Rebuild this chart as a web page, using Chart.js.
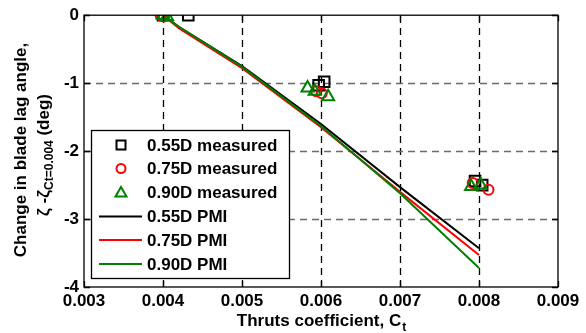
<!DOCTYPE html>
<html><head><meta charset="utf-8">
<script src="https://cdn.jsdelivr.net/npm/chart.js@4/dist/chart.umd.min.js"></script>
<style>html,body{margin:0;padding:0;background:#fff}#wrap{width:586px;height:333px;position:relative}</style>
</head><body><div id="wrap"><canvas id="c" width="586" height="333"></canvas></div>
<script>
// ---- data ----
const xTickValues = [0.003, 0.004, 0.005, 0.006, 0.007, 0.008, 0.009];
const yTickValues = [0, -1, -2, -3, -4];
const seriesLabels = ["0.55D measured","0.75D measured","0.90D measured","0.55D PMI","0.75D PMI","0.90D PMI"];
const meas55X = [0.0040, 0.00432, 0.00597, 0.00604, 0.00795, 0.00804];
const meas55Y = [0, 0, -1.03, -0.98, -2.44, -2.50];
const meas75X = [0.00397, 0.00401, 0.00594, 0.00601, 0.00792, 0.00812];
const meas75Y = [0, -0.02, -1.12, -1.15, -2.47, -2.57];
const meas90X = [0.0040, 0.00405, 0.00583, 0.00592, 0.00609, 0.00790, 0.00802];
const meas90Y = [0, -0.02, -1.07, -1.12, -1.20, -2.52, -2.50];
const pmiX   = [0.0040, 0.0042, 0.0050, 0.0060, 0.0070, 0.0080];
const pmi55Y = [0, -0.17, -0.75, -1.60, -2.53, -3.43];
const pmi75Y = [0, -0.19, -0.78, -1.65, -2.60, -3.53];
const pmi90Y = [0, -0.17, -0.76, -1.63, -2.62, -3.72];

const zip = (xs, ys) => xs.map((x, i) => ({x, y: ys[i]}));
const FONT = "'Liberation Sans', Arial, sans-serif";

const datasets = [
  {label: seriesLabels[0], data: zip(meas55X, meas55Y), showLine:false, pointStyle:'rect', pointRadius:7.5, borderColor:'#000', backgroundColor:'rgba(0,0,0,0)', borderWidth:2, order:3},
  {label: seriesLabels[1], data: zip(meas75X, meas75Y), showLine:false, pointStyle:'circle', pointRadius:5, borderColor:'#ff0000', backgroundColor:'rgba(0,0,0,0)', borderWidth:2, order:2},
  {label: seriesLabels[2], data: zip(meas90X, meas90Y), showLine:false, pointStyle:'triangle', pointRadius:7, borderColor:'#008000', backgroundColor:'rgba(0,0,0,0)', borderWidth:2, order:1},
  {label: seriesLabels[3], data: zip(pmiX, pmi55Y), showLine:true, pointRadius:0, borderColor:'#000', borderWidth:2, order:6},
  {label: seriesLabels[4], data: zip(pmiX, pmi75Y), showLine:true, pointRadius:0, borderColor:'#ff0000', borderWidth:2, order:5},
  {label: seriesLabels[5], data: zip(pmiX, pmi90Y), showLine:true, pointRadius:0, borderColor:'#008000', borderWidth:2, order:4},
];

const framePlugin = {
  id: 'frame',
  beforeDatasetsDraw(chart) {
    const {ctx, chartArea: a, scales: {x, y}} = chart;
    ctx.save();
    ctx.lineWidth = 1.3;
    ctx.setLineDash([7, 5]);
    ctx.strokeStyle = '#000';
    ctx.beginPath();
    xTickValues.slice(1, -1).forEach(v => { const px = Math.round(x.getPixelForValue(v)) + 0.5;
      ctx.moveTo(px, a.bottom); ctx.lineTo(px, a.top); });
    ctx.stroke();
    ctx.strokeStyle = '#6a6a6a';
    ctx.beginPath();
    yTickValues.slice(1, -1).forEach(v => { const py = Math.round(y.getPixelForValue(v)) + 0.5;
      ctx.moveTo(a.left, py); ctx.lineTo(a.right, py); });
    ctx.stroke();
    ctx.restore();
  },
  afterDatasetsDraw(chart) {
    const {ctx, chartArea: a, scales: {x, y}} = chart;
    ctx.save();
    ctx.strokeStyle = '#000'; ctx.lineWidth = 1.3; ctx.setLineDash([]);
    ctx.strokeRect(a.left, a.top, a.right - a.left, a.bottom - a.top);
    ctx.beginPath();
    xTickValues.forEach(v => { const px = Math.round(x.getPixelForValue(v)) + 0.5;
      ctx.moveTo(px, a.bottom); ctx.lineTo(px, a.bottom - 6);
      ctx.moveTo(px, a.top); ctx.lineTo(px, a.top + 6); });
    yTickValues.forEach(v => { const py = Math.round(y.getPixelForValue(v)) + 0.5;
      ctx.moveTo(a.left, py); ctx.lineTo(a.left + 6, py);
      ctx.moveTo(a.right, py); ctx.lineTo(a.right - 6, py); });
    ctx.stroke();
    // legend
    const L = 91, T = 130, R = 289, B = 278;
    ctx.fillStyle = '#fff'; ctx.fillRect(L, T, R - L, B - T);
    ctx.lineWidth = 1.3; ctx.strokeRect(L + 0.5, T + 0.5, R - L, B - T);
    const rowY = [145, 168.5, 192.5, 216.5, 240, 264];
    chart.data.datasets.forEach((ds, i) => {
      const yy = rowY[i];
      ctx.strokeStyle = ds.borderColor; ctx.lineWidth = 2;
      if (ds.showLine) {
        ctx.beginPath(); ctx.moveTo(99, yy); ctx.lineTo(142, yy); ctx.stroke();
      } else {
        ctx.beginPath();
        if (ds.pointStyle === 'rect') { ctx.rect(116.5, yy - 4.5, 9, 9); }
        else if (ds.pointStyle === 'circle') { ctx.arc(121, yy, 4.5, 0, Math.PI * 2); }
        else { ctx.moveTo(121, yy - 5.5); ctx.lineTo(126.5, yy + 4); ctx.lineTo(115.5, yy + 4); ctx.closePath(); }
        ctx.stroke();
      }
      ctx.fillStyle = '#000'; ctx.font = 'bold 17px ' + FONT;
      ctx.textBaseline = 'middle'; ctx.textAlign = 'left';
      ctx.fillText(ds.label, 147, yy + 1);
    });
    ctx.restore();
  },
  afterDraw(chart) {
    const {ctx, chartArea: a} = chart;
    ctx.save();
    ctx.fillStyle = '#000'; ctx.textBaseline = 'alphabetic';
    // x title
    const big = 'bold 17px ' + FONT, small = 'bold 12px ' + FONT;
    ctx.font = big; const t1 = 'Thruts coefficient, C'; const w1 = ctx.measureText(t1).width;
    ctx.font = small; const w2 = ctx.measureText('t').width;
    let sx = (a.left + a.right) / 2 - (w1 + w2) / 2;
    ctx.font = big; ctx.textAlign = 'left'; ctx.fillText(t1, sx, 326);
    ctx.font = small; ctx.fillText('t', sx + w1 + 1, 331);
    // y title
    ctx.save();
    ctx.translate(26, 150); ctx.rotate(-Math.PI / 2);
    ctx.font = big; ctx.textAlign = 'center'; ctx.fillText('Change in blade lag angle,', 0, 0);
    ctx.restore();
    ctx.save();
    ctx.translate(49, 155); ctx.rotate(-Math.PI / 2);
    const p1 = 'ζ -ζ', p2 = 'Ct=0.004', p3 = ' (deg)';
    ctx.font = big; const a1 = ctx.measureText(p1).width, a3 = ctx.measureText(p3).width;
    ctx.font = small; const a2 = ctx.measureText(p2).width;
    let s = -(a1 + a2 + a3) / 2;
    ctx.textAlign = 'left';
    ctx.font = big; ctx.fillText(p1, s, 0);
    ctx.font = small; ctx.fillText(p2, s + a1, 4);
    ctx.font = big; ctx.fillText(p3, s + a1 + a2, 0);
    ctx.restore();
    ctx.restore();
  }
};

new Chart(document.getElementById('c'), {
  type: 'scatter',
  data: {datasets},
  options: {
    responsive: false, animation: false, devicePixelRatio: 1,
    layout: {padding: {top: 14, right: 28, left: 0, bottom: 0}},
    plugins: {legend: {display: false}, tooltip: {enabled: false}, title: {display: false}},
    scales: {
      x: {
        type: 'linear', min: 0.003, max: 0.009,
        afterFit(s) { s.height = 46; },
        afterBuildTicks(s) { s.ticks = xTickValues.map(v => ({value: v})); },
        ticks: {font: {family: FONT, size: 17, weight: 'bold'}, color: '#000', padding: 4, maxRotation: 0,
                callback: v => v.toFixed(3)},
        grid: {display: false, drawTicks: false},
        border: {display: false}
      },
      y: {
        type: 'linear', min: -4, max: 0,
        afterFit(s) { s.width = 84; },
        afterBuildTicks(s) { s.ticks = yTickValues.map(v => ({value: v})); },
        ticks: {font: {family: FONT, size: 17, weight: 'bold'}, color: '#000', padding: 5,
                callback: v => String(v)},
        grid: {display: false, drawTicks: false},
        border: {display: false}
      }
    }
  },
  plugins: [framePlugin]
});
</script></body></html>
